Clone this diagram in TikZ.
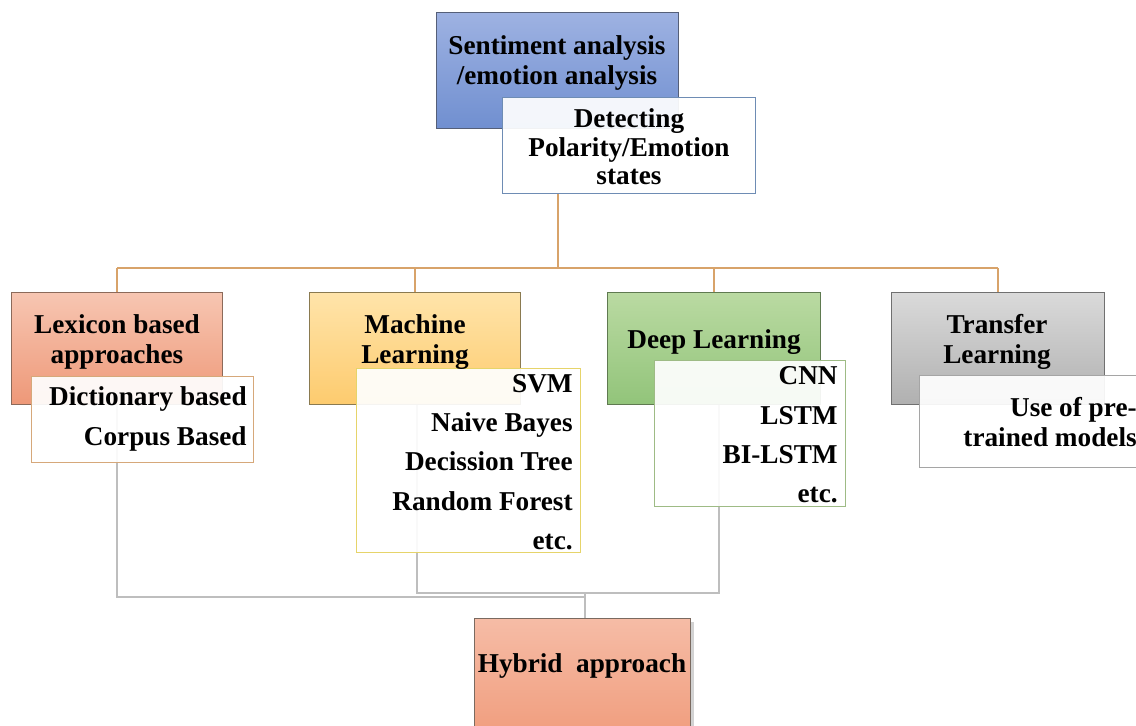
\documentclass[tikz,border=0pt]{standalone}
\usepackage{fontspec}
\setmainfont{Liberation Serif}
\usetikzlibrary{fit,shadows}
\definecolor{sentT}{RGB}{158,178,226}
\definecolor{sentB}{RGB}{112,143,208}
\definecolor{sentD}{RGB}{85,95,120}
\definecolor{detD}{RGB}{110,140,180}
\definecolor{lexT}{RGB}{247,198,178}
\definecolor{lexB}{RGB}{238,152,120}
\definecolor{lexD}{RGB}{140,106,90}
\definecolor{lexS}{RGB}{214,168,122}
\definecolor{mlT}{RGB}{255,228,170}
\definecolor{mlB}{RGB}{253,203,110}
\definecolor{mlD}{RGB}{138,122,80}
\definecolor{mlS}{RGB}{230,212,106}
\definecolor{dlT}{RGB}{186,218,162}
\definecolor{dlB}{RGB}{146,196,122}
\definecolor{dlD}{RGB}{95,122,80}
\definecolor{dlS}{RGB}{158,187,133}
\definecolor{tlT}{RGB}{218,218,218}
\definecolor{tlB}{RGB}{176,176,176}
\definecolor{tlD}{RGB}{112,112,112}
\definecolor{tlS}{RGB}{165,165,165}
\definecolor{hyT}{RGB}{246,188,166}
\definecolor{hyB}{RGB}{240,156,124}
\definecolor{hyD}{RGB}{122,106,96}
\definecolor{busO}{RGB}{216,163,106}
\definecolor{busG}{RGB}{190,190,190}
\tikzset{
  box/.style={inner sep=0pt, line width=0.8pt},
  subbox/.style={inner sep=0pt, line width=0.8pt, fill=white, fill opacity=0.92},
  txt/.style={font=\fontsize{15.5}{17}\selectfont\bfseries, inner sep=0pt, align=center},
  listtxt/.style={font=\fontsize{15.5}{22.4}\selectfont\bfseries, inner sep=0pt, align=right, anchor=east},
  obus/.style={draw=busO, line width=0.9pt},
  gbus/.style={draw=busG, line width=1.2pt},
}
\begin{document}
\begin{tikzpicture}[x=0.02cm,y=-0.02cm]
\clip (0,0) rectangle (1136,725);
\useasboundingbox (0,0) rectangle (1136,725);
% coordinates for connectors
\coordinate (jtop) at (558,268);
\coordinate (b1) at (117,597);
\coordinate (hj) at (585,597);
\coordinate (b2) at (417,593);
\coordinate (b3) at (719,593);
% boxes (positions only, for connectors)
\path
  node[box, fit={(437,13) (678,128)}] (sent) {}
  node[box, fit={(503,98) (755,193)}] (det) {}
  node[box, fit={(12,293) (222,404)}] (lex) {}
  node[box, fit={(32,377) (253,462)}] (lexs) {}
  node[box, fit={(310,293) (520,404)}] (ml) {}
  node[box, fit={(357,369) (580,552)}] (mls) {}
  node[box, fit={(608,293) (820,404)}] (dl) {}
  node[box, fit={(655,361) (845,506)}] (dls) {}
  node[box, fit={(892,293) (1104,404)}] (tl) {}
  node[box, fit={(920,376) (1150,467)}] (tls) {}
  node[box, fit={(475,619) (690,740)}] (hyb) {};
% top connectors
\draw[obus] (det.south -| jtop) -- (jtop);
\draw[obus] (lex.north |- jtop) -- (tl.north |- jtop);
\draw[obus] (lex.north |- jtop) -- (lex.north);
\draw[obus] (ml.north |- jtop) -- (ml.north);
\draw[obus] (dl.north |- jtop) -- (dl.north);
\draw[obus] (tl.north |- jtop) -- (tl.north);
% main boxes drawn
\draw[box, draw=sentD, top color=sentT, bottom color=sentB] (sent.north west) rectangle (sent.south east);
\draw[box, draw=lexD, top color=lexT, bottom color=lexB] (lex.north west) rectangle (lex.south east);
\draw[box, draw=mlD, top color=mlT, bottom color=mlB] (ml.north west) rectangle (ml.south east);
\draw[box, draw=dlD, top color=dlT, bottom color=dlB] (dl.north west) rectangle (dl.south east);
\draw[box, draw=tlD, top color=tlT, bottom color=tlB] (tl.north west) rectangle (tl.south east);
% bottom connectors
\draw[gbus] (lex.south -| b1) -- (b1) -- (hj);
\draw[gbus] (ml.south -| b2) -- (b2) -- (b3) -- (dl.south -| b3);
\draw[gbus] (hj |- b2) -- (hyb.north -| hj);
% sub boxes
\draw[subbox, draw=detD] (det.north west) rectangle (det.south east);
\draw[subbox, draw=lexS] (lexs.north west) rectangle (lexs.south east);
\draw[subbox, draw=mlS] (mls.north west) rectangle (mls.south east);
\draw[subbox, draw=dlS] (dls.north west) rectangle (dls.south east);
\draw[subbox, draw=tlS] (tls.north west) rectangle (tls.south east);
\draw[box, draw=hyD, top color=hyT, bottom color=hyB, drop shadow={shadow xshift=2pt, shadow yshift=-2pt, fill=gray!70}] (hyb.north west) rectangle (hyb.south east);
% texts
\node[txt] (sentx) at (557,63) {Sentiment analysis\\/emotion analysis};
\node[txt, font=\fontsize{15.5}{16.2}\selectfont\bfseries] (detx) at (629,147) {Detecting\\Polarity/Emotion\\states};
\node[txt] (lexx) at (117,342) {Lexicon based\\approaches};
\node[listtxt] (lexl) at (247,419) {Dictionary based\\Corpus Based};
\node[txt] (mlx) at (415,342) {Machine\\Learning};
\node[listtxt] (mll) at (573,462) {SVM\\Naive Bayes\\Decission Tree\\Random Forest\\etc.};
\node[txt] (dlx) at (714,342) {Deep Learning};
\node[listtxt] (dll) at (838,435) {CNN\\LSTM\\BI-LSTM\\etc.};
\node[txt] (tlx) at (997,342) {Transfer\\Learning};
\node[listtxt, font=\fontsize{15.5}{17}\selectfont\bfseries] (tll) at (1137,422) {Use of pre-\\trained models};
\node[txt] (hybx) at (582,666) {Hybrid\ \ approach};
\end{tikzpicture}
\end{document}
